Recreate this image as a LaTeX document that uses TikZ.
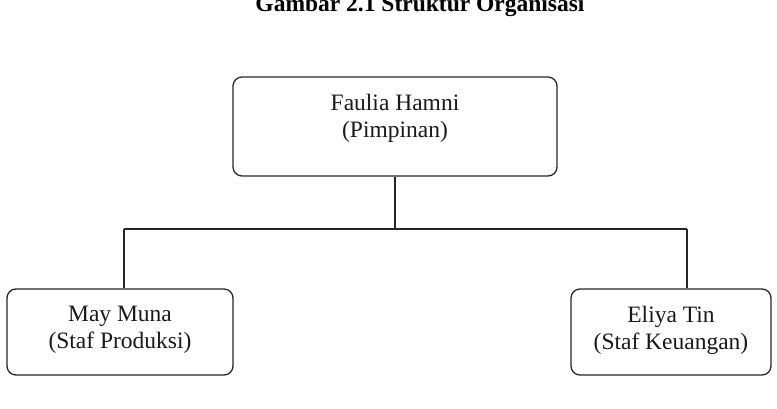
\documentclass[tikz,border=0pt]{standalone}
\usepackage{fontspec}
\setmainfont{Liberation Serif}
\begin{document}
\begin{tikzpicture}[x=1pt,y=-1pt,
  box/.style={draw=black!85, line width=1.3pt, rounded corners=9pt, inner sep=0pt},
  lbl/.style={font=\fontsize{23.5}{27}\selectfont, align=center, inner sep=0pt, text=black!90},
  wire/.style={draw=black!85, line width=1.1pt}]
\useasboundingbox (0,0) rectangle (777,408);
\node[font=\bfseries\fontsize{23.5}{27}\selectfont, anchor=base, inner sep=0pt] (title) at (420,11) {Gambar 2.1 Struktur Organisasi};
\node[box, minimum width=324pt, minimum height=99pt] (top) at (395,126.5) {};
\node[box, minimum width=226pt, minimum height=86pt] (left) at (120,332) {};
\node[box, minimum width=200pt, minimum height=86pt] (right) at (671,332) {};
\node[lbl] (toptext) at (395,118) {Faulia Hamni\\(Pimpinan)};
\node[lbl] (lefttext) at (120,330) {May Muna\\(Staf Produksi)};
\node[lbl] (righttext) at (671,330) {Eliya Tin\\(Staf Keuangan)};
\coordinate (j) at (395,229);
\coordinate (cl) at (124,229);
\coordinate (cr) at (687,229);
\draw[wire] (top.south) -- (j);
\draw[wire] (cl) -- (cr);
\draw[wire] (cl) -- (cl |- left.north);
\draw[wire] (cr) -- (cr |- right.north);
\end{tikzpicture}
\end{document}
